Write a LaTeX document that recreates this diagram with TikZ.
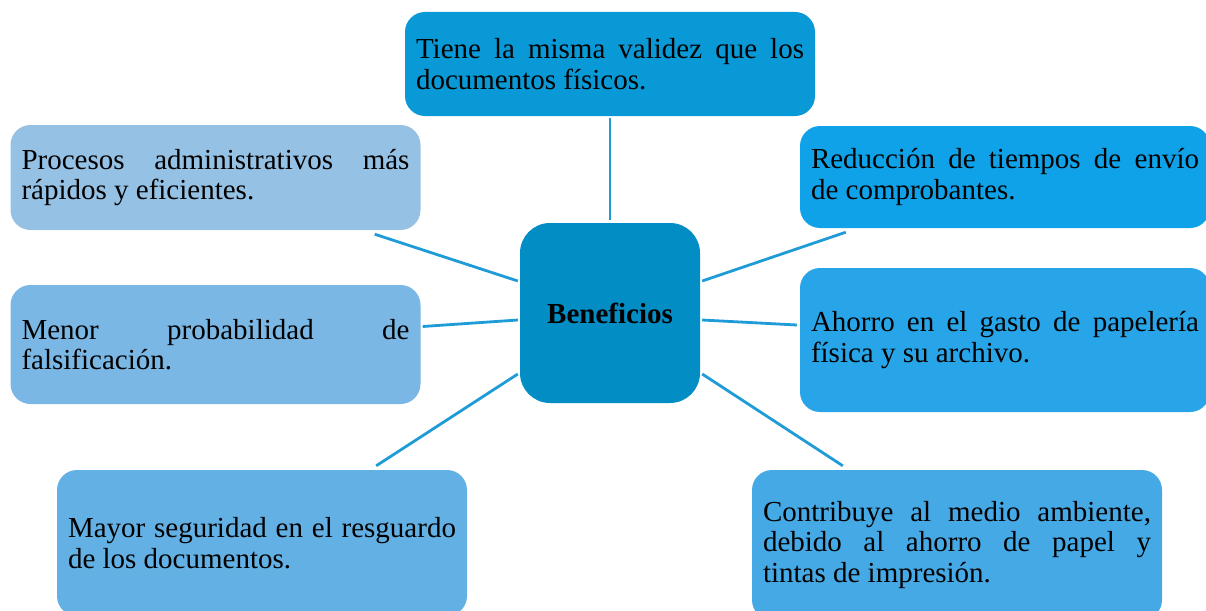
\documentclass[tikz,border=0pt]{standalone}
\usepackage{fontspec}
\setmainfont{Liberation Serif}
\usetikzlibrary{calc}
\hyphenpenalty=10000
\exhyphenpenalty=10000
\tolerance=10000
\hbadness=10000
\definecolor{ctop}{HTML}{0899D6}
\definecolor{ccen}{HTML}{038DC5}
\definecolor{cr1}{HTML}{10A2E8}
\definecolor{cr2}{HTML}{27A5E8}
\definecolor{cr3}{HTML}{45A9E6}
\definecolor{cl1}{HTML}{95C1E5}
\definecolor{cl2}{HTML}{7AB7E5}
\definecolor{cl3}{HTML}{62B0E4}
\definecolor{cline}{HTML}{1F9BD7}
\begin{document}
\begin{tikzpicture}[x=1pt,y=-1pt,
  box/.style={rounded corners=20pt, text width=388pt, inner xsep=11pt, inner ysep=0pt,
    align=justify, font=\fontsize{29}{30.5}\selectfont, text=black},
  link/.style={draw=cline, line width=2.8pt}]
\useasboundingbox (0,0) rectangle (1206,610);
\clip (0,0) rectangle (1206,610);
\node[box, fill=ctop, minimum height=104pt] (top) at (610,64)
  {Tiene la misma validez que los\linebreak documentos físicos.};
\node[rounded corners=30pt, fill=ccen, minimum width=180pt, minimum height=180pt,
  font=\fontsize{29}{30.5}\selectfont\bfseries] (c) at (610,313) {Beneficios};
\node[box, fill=cr1, minimum height=102pt] (r1) at (1005,177)
  {Reducción de tiempos de envío\linebreak de comprobantes.};
\node[box, fill=cr2, minimum height=144pt] (r2) at (1005,340)
  {Ahorro en el gasto de papelería\linebreak física y su archivo.};
\node[box, fill=cr3, minimum height=150pt] (r3) at (957,545)
  {Contribuye al medio ambiente,\linebreak debido al ahorro de papel y\linebreak tintas de impresión.};
\node[box, fill=cl1, minimum height=105pt] (l1) at (215.5,177.5)
  {Procesos administrativos más\linebreak rápidos y eficientes.};
\node[box, fill=cl2, minimum height=119pt] (l2) at (215.5,344.5)
  {Menor probabilidad de\linebreak falsificación.};
\node[box, fill=cl3, minimum height=146pt] (l3) at (262,543)
  {Mayor seguridad en el resguardo\linebreak de los documentos.};
\draw[link] ($(top.south)+(0,2)$) -- ($(c.north)+(0,-3)$);
\draw[link] ($(l1.south east)+(-46,4)$) -- ($(c.west)+(-2,-32)$);
\draw[link] ($(l2.east)+(2,-18)$) -- ($(c.west)+(-2,7)$);
\draw[link] ($(l3.north east)+(-91,-4)$) -- ($(c.west)+(-2,61)$);
\draw[link] ($(c.east)+(2,-32)$) -- ($(r1.south west)+(46,4)$);
\draw[link] ($(c.east)+(2,7)$) -- ($(r2.west)+(-3,-15)$);
\draw[link] ($(c.east)+(2,61)$) -- ($(r3.north west)+(91,-4)$);
\end{tikzpicture}
\end{document}
